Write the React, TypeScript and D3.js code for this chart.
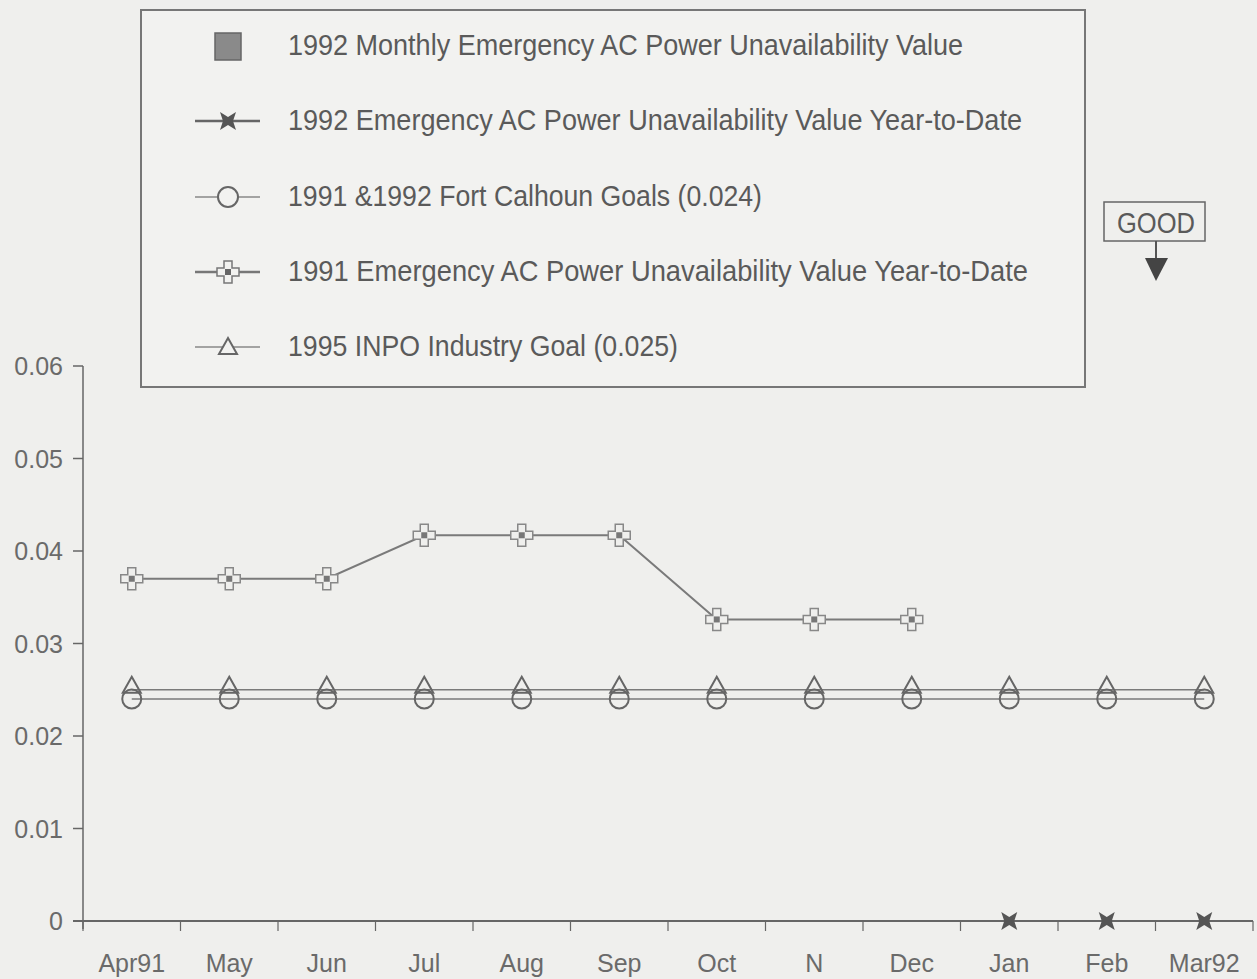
import React from "react";
import * as d3 from "d3";

const months = ["Apr91", "May", "Jun", "Jul", "Aug", "Sep", "Oct", "N", "Dec", "Jan", "Feb", "Mar92"];
const ytd1991 = [0.037, 0.037, 0.037, 0.0417, 0.0417, 0.0417, 0.0326, 0.0326, 0.0326];
const ytd1992Months = ["Jan", "Feb", "Mar92"];
const ytd1992 = [0, 0, 0];
const fortCalhounGoal = 0.024;
const inpoGoal = 0.025;
const yTicks = [0, 0.01, 0.02, 0.03, 0.04, 0.05, 0.06];
const legendLabels = [
  "1992 Monthly Emergency AC Power Unavailability Value",
  "1992 Emergency AC Power Unavailability Value Year-to-Date",
  "1991 &1992 Fort Calhoun Goals (0.024)",
  "1991  Emergency AC Power Unavailability Value Year-to-Date",
  "1995 INPO Industry Goal (0.025)",
];
const legendWidths = [675, 734, 474, 740, 390];

const W = 1257, H = 979;
const FONT = "'Liberation Sans', Arial, sans-serif";
const ink = "#5a5a5a";
const lineCol = "#7a7a7a";
const bg = "#efefed";

const x = d3.scaleBand<string>().domain(months).range([83, 1253]);
const y = d3.scaleLinear().domain([0, 0.06]).range([921, 366]);
const cx = (m: string) => (x(m) as number) + x.bandwidth() / 2;

const crossPath = (px: number, py: number) => {
  const a = 4, b = 11;
  return `M${px - a},${py - b}H${px + a}V${py - a}H${px + b}V${py + a}H${px + a}V${py + b}H${px - a}V${py + a}H${px - b}V${py - a}H${px - a}Z`;
};
const triPath = (px: number, py: number) => `M${px},${py - 13}L${px + 9},${py + 3}L${px - 9},${py + 3}Z`;
const bowtiePath = (px: number, py: number) =>
  `M${px - 8},${py - 9}L${px},${py - 4}L${px + 8},${py - 9}L${px + 5},${py}L${px + 8},${py + 9}L${px},${py + 4}L${px - 8},${py + 9}L${px - 5},${py}Z`;

export default function App() {
  const line = d3.line<[number, number]>().x(d => d[0]).y(d => d[1]);
  const pts1991: [number, number][] = ytd1991.map((v, i) => [cx(months[i]), y(v)]);
  const pts1992: [number, number][] = ytd1992.map((v, i) => [cx(ytd1992Months[i]), y(v)]);
  const goalPts: [number, number][] = months.map(m => [cx(m), y(fortCalhounGoal)]);
  const inpoPts: [number, number][] = months.map(m => [cx(m), y(inpoGoal)]);
  const boundaries = months.map(m => x(m) as number).concat([1253]);
  const legendY = [46, 121, 197, 272, 347];

  return (
    <svg width={W} height={H} style={{ position: "absolute", left: 0, top: 0, background: bg }} fontFamily={FONT}>
      <rect x={0} y={0} width={W} height={H} fill={bg} />
      {/* Legend */}
      <rect x={141} y={10} width={944} height={377} fill="#f2f2f0" stroke="#777" strokeWidth={2} />
      {legendLabels.map((t, i) => (
        <text key={t} x={288} y={legendY[i] + 9} fontSize={29} fill={ink} textLength={legendWidths[i]} lengthAdjust="spacingAndGlyphs">{t}</text>
      ))}
      <rect x={215} y={33} width={26} height={27} fill="#8a8a8a" stroke="#666" strokeWidth={1.5} />
      <line x1={195} x2={260} y1={121} y2={121} stroke="#666" strokeWidth={2.5} />
      <path d={bowtiePath(228, 121)} fill="#555" />
      <line x1={195} x2={260} y1={197} y2={197} stroke="#888" strokeWidth={1.5} />
      <circle cx={228} cy={197} r={10} fill="#f2f2f0" stroke="#666" strokeWidth={2} />
      <line x1={195} x2={260} y1={272} y2={272} stroke="#777" strokeWidth={2.5} />
      <path d={crossPath(228, 272)} fill="#f2f2f0" stroke="#777" strokeWidth={1.5} />
      <rect x={225} y={269} width={6} height={6} fill="#666" />
      <line x1={195} x2={260} y1={347} y2={347} stroke="#888" strokeWidth={1.5} />
      <path d={triPath(228, 351)} fill="#f2f2f0" stroke="#666" strokeWidth={2} />

      {/* GOOD indicator */}
      <rect x={1104} y={202} width={101} height={39} fill="none" stroke="#666" strokeWidth={1.5} />
      <text x={1117} y={233} fontSize={29} fill={ink} textLength={78} lengthAdjust="spacingAndGlyphs">GOOD</text>
      <line x1={1156} x2={1156} y1={241} y2={262} stroke="#555" strokeWidth={2} />
      <path d="M1145,258L1168,258L1156,281Z" fill="#444" />

      {/* Axes */}
      <line x1={83} x2={83} y1={y(0.06)} y2={y(0) + 8} stroke="#666" strokeWidth={1.5} />
      {yTicks.map(t => (
        <g key={t}>
          <line x1={73} x2={83} y1={y(t)} y2={y(t)} stroke="#666" strokeWidth={1.5} />
          <text x={63} y={y(t) + 9} fontSize={25} fill="#6a6a6a" textAnchor="end">{t === 0 ? "0" : t.toFixed(2)}</text>
        </g>
      ))}
      <line x1={73} x2={1253} y1={y(0)} y2={y(0)} stroke="#666" strokeWidth={2} />
      {boundaries.map((b, i) => (
        <line key={i} x1={b} x2={b} y1={y(0)} y2={y(0) + 10} stroke="#666" strokeWidth={1.2} />
      ))}
      {months.map(m => (
        <text key={m} x={cx(m)} y={972} fontSize={25} fill="#6a6a6a" textAnchor="middle">{m}</text>
      ))}

      {/* Goal lines */}
      <path d={line(inpoPts) as string} fill="none" stroke={lineCol} strokeWidth={1.5} />
      <path d={line(goalPts) as string} fill="none" stroke={lineCol} strokeWidth={1.5} />
      {goalPts.map(([px, py], i) => (
        <circle key={"c" + i} cx={px} cy={py} r={9.5} fill="none" stroke="#666" strokeWidth={2} />
      ))}
      {inpoPts.map(([px, py], i) => (
        <path key={"t" + i} d={triPath(px, py)} fill="none" stroke="#666" strokeWidth={2} />
      ))}

      {/* 1991 YTD */}
      <path d={line(pts1991) as string} fill="none" stroke={lineCol} strokeWidth={2} />
      {pts1991.map(([px, py], i) => (
        <g key={"p" + i}>
          <path d={crossPath(px, py)} fill={bg} stroke="#888" strokeWidth={1.5} />
          <rect x={px - 3} y={py - 3} width={6} height={6} fill="#777" />
        </g>
      ))}

      {/* 1992 YTD */}
      <path d={line(pts1992) as string} fill="none" stroke="#666" strokeWidth={2} />
      {pts1992.map(([px, py], i) => (
        <path key={"b" + i} d={bowtiePath(px, py)} fill="#555" />
      ))}
    </svg>
  );
}
